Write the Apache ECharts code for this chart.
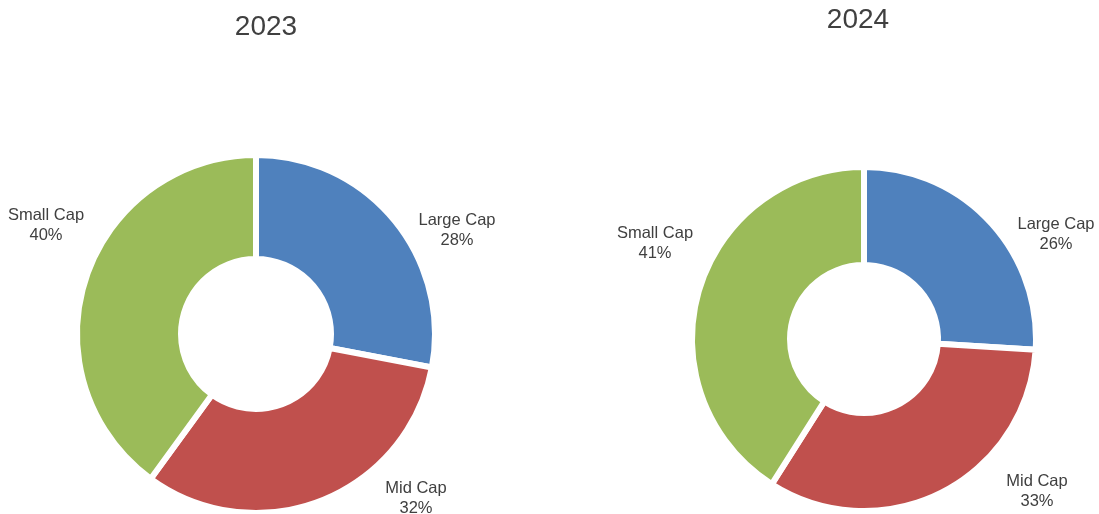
<!DOCTYPE html>
<html>
<head>
<meta charset="utf-8">
<script src="https://cdn.jsdelivr.net/npm/echarts@6/dist/echarts.min.js"></script>
<style>
  html, body { margin: 0; padding: 0; background: #fff; }
  #chart { width: 1099px; height: 514px; }
</style>
</head>
<body>
<div id="chart"></div>
<script>
// data
const categories = ["Large Cap", "Mid Cap", "Small Cap"];
const years = ["2023", "2024"];
const values2023 = [28, 32, 40];
const values2024 = [26, 33, 41];

const colors = ["#4F81BD", "#C0504D", "#9BBB59"];
const textColor = "#404040";

// label offsets from each donut's centre (Excel "best fit" placement)
const labelOffsets = [
  [[201, -104], [160, 164], [-210, -109]],
  [[192, -105], [173, 152], [-209, -96]],
];

function donut(values, idx, center, radius) {
  return {
    type: "pie",
    center: center,
    radius: radius,
    startAngle: 90,
    clockwise: true,
    silent: true,
    itemStyle: { borderColor: "#fff", borderWidth: 6 },
    label: {
      show: true,
      position: "center",
      formatter: "{b}\n{d}%",
      color: textColor,
      fontFamily: "Liberation Sans, Arial, sans-serif",
      fontSize: 16.5,
      lineHeight: 20,
      align: "center",
    },
    labelLine: { show: false },
    labelLayout: function (params) {
      const off = labelOffsets[idx][params.dataIndex];
      return { dx: off[0], dy: off[1] };
    },
    data: categories.map((name, i) => ({
      name: name,
      value: values[i],
      itemStyle: { color: colors[i] },
    })),
  };
}

const chart = echarts.init(document.getElementById("chart"));

const titleStyle = {
  color: textColor,
  fontSize: 28,
  fontWeight: "normal",
  fontFamily: "Liberation Sans, Arial, sans-serif",
};

chart.setOption({
  backgroundColor: "#fff",
  animation: false,
  title: [
    { text: years[0], left: 261, top: 8, textAlign: "center", textStyle: titleStyle },
    { text: years[1], left: 853, top: 1, textAlign: "center", textStyle: titleStyle },
  ],
  series: [
    donut(values2023, 0, [256, 334], [75, 179]),
    donut(values2024, 1, [864, 339], [74, 172]),
  ],
});
</script>
</body>
</html>
